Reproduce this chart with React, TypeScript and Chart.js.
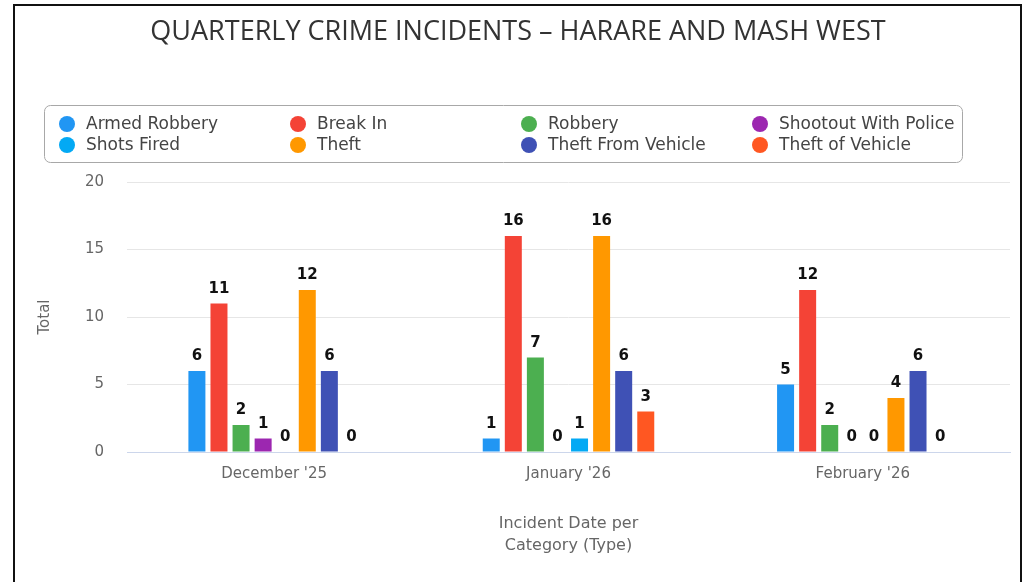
import React, { useEffect, useRef } from "react";
import { Chart, registerables } from "chart.js";

Chart.register(...registerables);

const chartTitle = "QUARTERLY CRIME INCIDENTS \u2013 HARARE AND MASH WEST";
const categories = ["December '25", "January '26", "February '26"];
const seriesNames = [
  "Armed Robbery",
  "Break In",
  "Robbery",
  "Shootout With Police",
  "Shots Fired",
  "Theft",
  "Theft From Vehicle",
  "Theft of Vehicle",
];
const armedRobbery = [6, 1, 5];
const breakIn = [11, 16, 12];
const robbery = [2, 7, 2];
const shootoutWithPolice = [1, 0, 0];
const shotsFired = [0, 1, 0];
const theft = [12, 16, 4];
const theftFromVehicle = [6, 6, 6];
const theftOfVehicle = [0, 3, 0];
const seriesValues = [
  armedRobbery,
  breakIn,
  robbery,
  shootoutWithPolice,
  shotsFired,
  theft,
  theftFromVehicle,
  theftOfVehicle,
];
const seriesColors = [
  "#2196F3",
  "#F44336",
  "#4CAF50",
  "#9C27B0",
  "#03A9F4",
  "#FF9800",
  "#3F51B5",
  "#FF5722",
];
const yMin = 0;
const yMax = 20;
const yStep = 5;
const yTitle = "Total";
const xTitle = ["Incident Date per", "Category (Type)"];

const FONT = "'DejaVu Sans', sans-serif";

const dataLabelsPlugin = {
  id: "dataLabels",
  afterDatasetsDraw(chart: any) {
    const ctx = chart.ctx;
    ctx.save();
    ctx.font = `bold 15px ${FONT}`;
    ctx.fillStyle = "#111";
    ctx.textAlign = "center";
    ctx.textBaseline = "bottom";
    chart.data.datasets.forEach((ds: any, i: number) => {
      const meta = chart.getDatasetMeta(i);
      meta.data.forEach((el: any, j: number) => {
        ctx.fillText(String(ds.data[j]), el.x, el.y - 7);
      });
    });
    ctx.restore();
  },
};

const boxLegendPlugin = {
  id: "boxLegend",
  afterDraw(chart: any) {
    const ctx = chart.ctx;
    const left = 44;
    const top = 105;
    const w = 918;
    const h = 57;
    ctx.save();
    ctx.strokeStyle = "#a8a8a8";
    ctx.lineWidth = 1;
    ctx.beginPath();
    (ctx as any).roundRect(left + 0.5, top + 0.5, w, h, 6);
    ctx.stroke();
    ctx.font = `17px ${FONT}`;
    ctx.textBaseline = "middle";
    ctx.textAlign = "left";
    chart.data.datasets.forEach((ds: any, i: number) => {
      const col = i % 4;
      const row = Math.floor(i / 4);
      const cx = 67 + col * 231;
      const cy = 124 + row * 21;
      ctx.fillStyle = ds.backgroundColor;
      ctx.beginPath();
      ctx.arc(cx, cy, 8, 0, Math.PI * 2);
      ctx.fill();
      ctx.fillStyle = "#444";
      ctx.fillText(ds.label, cx + 19, cy + 1);
    });
    ctx.restore();
  },
};

export default function App() {
  const canvasRef = useRef<HTMLCanvasElement | null>(null);

  useEffect(() => {
    if (!canvasRef.current) return;
    const chart = new Chart(canvasRef.current, {
      type: "bar",
      data: {
        labels: categories,
        datasets: seriesNames.map((name, i) => ({
          label: name,
          data: seriesValues[i],
          backgroundColor: seriesColors[i],
          borderWidth: 0,
          categoryPercentage: 0.6,
          barPercentage: 0.77,
        })),
      },
      options: {
        animation: false,
        responsive: false,
        maintainAspectRatio: false,
        layout: { padding: { left: 26, right: 19, top: 0, bottom: 0 } },
        plugins: {
          legend: { display: false },
          tooltip: { enabled: false },
          title: {
            display: true,
            text: chartTitle,
            color: "#333",
            font: { family: "'Open Sans', sans-serif", size: 27, weight: "normal", lineHeight: 1.2 },
            padding: { top: 16, bottom: 133.6 },
          },
        },
        scales: {
          x: {
            grid: { display: false, drawTicks: false },
            border: { display: true, color: "#ccd6eb", width: 1 },
            ticks: {
              color: "#666",
              font: { family: FONT, size: 15 },
              padding: 13,
            },
            title: {
              display: true,
              text: xTitle,
              color: "#666",
              font: { family: FONT, size: 16, lineHeight: 1.375 },
              padding: { top: 0, bottom: 25 },
            },
            afterFit(scale: any) {
              scale.height = 130;
            },
          },
          y: {
            min: yMin,
            max: yMax,
            grid: { color: "#e6e6e6", drawTicks: false },
            border: { display: false },
            ticks: {
              stepSize: yStep,
              color: "#666",
              font: { family: FONT, size: 15 },
              padding: 23,
            },
            title: {
              display: true,
              text: yTitle,
              color: "#666",
              font: { family: FONT, size: 15, lineHeight: 1.2 },
              padding: { top: 10, bottom: 0 },
            },
            afterFit(scale: any) {
              scale.width = 101;
            },
          },
        },
      },
      plugins: [dataLabelsPlugin, boxLegendPlugin],
    });
    return () => chart.destroy();
  }, []);

  return (
    <div
      style={{
        position: "fixed",
        left: 0,
        top: 0,
        width: 1029,
        height: 582,
        background: "#fff",
        overflow: "hidden",
      }}
    >
      <canvas
        ref={canvasRef}
        width={1029}
        height={582}
        style={{ position: "absolute", left: 0, top: 0, width: 1029, height: 582 }}
      />
      <div
        style={{
          position: "absolute",
          left: 13,
          top: 4,
          width: 1005,
          height: 620,
          border: "2px solid #111",
          pointerEvents: "none",
        }}
      />
    </div>
  );
}
